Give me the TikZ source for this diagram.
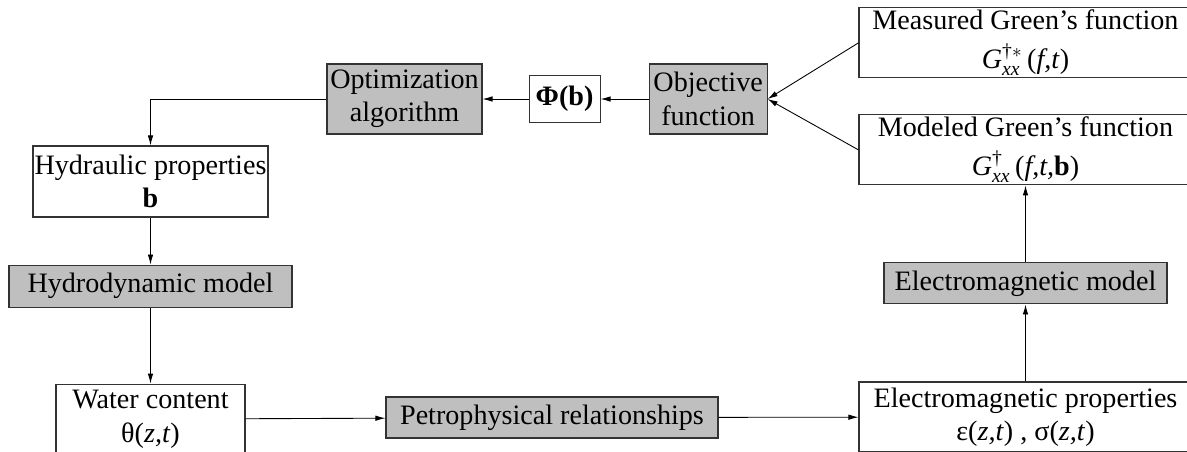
\documentclass[tikz,border=0pt]{standalone}
\usepackage{amsmath}
\usepackage{fontspec}
\setmainfont{Liberation Serif}
\usepackage{tikz}
\usetikzlibrary{positioning, arrows.meta}

\begin{document}
\begin{tikzpicture}[
        font=\rmfamily\fontsize{16}{19}\selectfont,
        node distance=0.9cm and 0.9cm,
        whitebox/.style={rectangle, draw=black!80, line width=0.6pt, fill=white, inner sep=0pt, align=center},
        graybox/.style={rectangle, draw=black!80, line width=0.6pt, fill=black!25, inner sep=0pt, align=center},
        arrow/.style={-{Latex[length=2mm,width=1.1mm]}, line width=0.5pt}
        ]
        \useasboundingbox (0,0) rectangle (23.74,-9.02);

        % left column
        \node[whitebox, minimum width=4.7cm, minimum height=1.42cm] (hydraulic) at (3.01,-3.63) {Hydraulic properties\\\textbf{b}};
        \node[graybox, minimum width=5.66cm, minimum height=0.84cm, below=0.94cm of hydraulic] (hydro) {Hydrodynamic model};
        \node[whitebox, minimum width=3.78cm, minimum height=1.4cm, below=1.52cm of hydro] (water) {Water content\\θ(\textit{z,t})};

        % top row
        \node[graybox, minimum width=3.1cm, minimum height=1.4cm] (optim) at (8.09,-1.98) {Optimization\\algorithm};
        \node[whitebox, minimum width=1.42cm, minimum height=0.94cm, right=0.92cm of optim] (phi) {\textbf{Φ(b)}};
        \node[graybox, minimum width=2.36cm, minimum height=1.4cm, right=0.96cm of phi] (objective) {Objective\\function};

        % bottom and right column
        \node[graybox, minimum width=6.64cm, minimum height=0.82cm] (petro) at (11.04,-8.35) {Petrophysical relationships};
        \node[whitebox, minimum width=6.66cm, minimum height=1.4cm] (emprop) at (20.51,-8.34) {Electromagnetic properties\\ε(\textit{z,t}) , σ(\textit{z,t})};
        \node[graybox, minimum width=5.66cm, minimum height=0.82cm, above=1.54cm of emprop] (emmodel) {Electromagnetic model};
        \node[whitebox, minimum width=6.66cm, minimum height=1.4cm, above=1.54cm of emmodel] (model) {Modeled Green’s function\\[3pt]\textit{G}$^{\text{†}}_{\text{\textit{xx}}}$\,(\textit{f,t,}\textbf{b})};
        \node[whitebox, minimum width=6.66cm, minimum height=1.4cm, above=0.72cm of model] (meas) {Measured Green’s function\\[3pt]\textit{G}$^{\text{†}*}_{\text{\textit{xx}}}$\,(\textit{f,t})};

        \draw[arrow] (meas.west) -- (objective.east);
        \draw[arrow] (model.west) -- (objective.east);
        \draw[arrow] (objective) -- (phi);
        \draw[arrow] (phi) -- (optim);
        \draw[arrow] (optim.west) -| (hydraulic.north);
        \draw[arrow] (hydraulic) -- (hydro);
        \draw[arrow] (hydro) -- (water);
        \draw[arrow] (water) -- (petro);
        \draw[arrow] (petro) -- (emprop);
        \draw[arrow] (emprop.north) -- (emprop.north |- emmodel.south);
        \draw[arrow] (emprop.north |- emmodel.north) -- (emprop.north |- model.south);
    \end{tikzpicture}
\end{document}
